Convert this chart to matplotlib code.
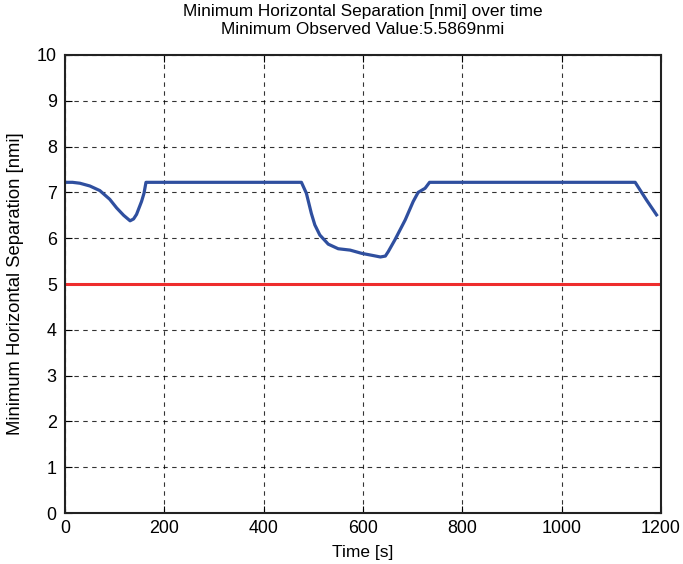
import matplotlib.pyplot as plt

plt.rcParams['font.family'] = ['Liberation Sans', 'DejaVu Sans']

# separation curve
time_s = [0, 15, 30, 50, 70, 90, 104, 118, 131, 138, 144, 154, 159, 163,
          476, 486, 496, 503, 513, 530, 550, 574, 597, 621, 635, 645, 651,
          664, 685, 701, 711, 725, 734,
          1148, 1158, 1171, 1191]
sep_nmi = [7.22, 7.22, 7.20, 7.14, 7.04, 6.85, 6.66, 6.50, 6.38, 6.42, 6.52, 6.80, 6.98, 7.22,
           7.22, 6.98, 6.54, 6.29, 6.07, 5.87, 5.77, 5.74, 5.67, 5.62, 5.59, 5.61, 5.71,
           5.96, 6.40, 6.80, 7.00, 7.09, 7.22,
           7.22, 7.05, 6.83, 6.51]
threshold_nmi = 5
min_value = 5.5869

fig = plt.figure(figsize=(6.83, 5.64), dpi=100)
ax = fig.add_axes([0.0952, 0.0904, 0.8726, 0.8121])

ax.plot([0, 1200], [threshold_nmi, threshold_nmi], color='#ee2d2d', linewidth=2.2)
ax.plot(time_s, sep_nmi, color='#2f4f9f', linewidth=2.3)

ax.set_xlim(0, 1200)
ax.set_ylim(0, 10)
ax.set_xticks(range(0, 1201, 200))
ax.set_yticks(range(0, 11))
ax.grid(True, color='black', linestyle=(0, (4, 4)), linewidth=0.8, alpha=0.8)
ax.tick_params(direction='in', top=True, right=True, labelsize=12.9, length=5, pad=5)
ax.tick_params(axis='y', pad=6)
for s in ax.spines.values():
    s.set_linewidth(1.5)
    s.set_color('#222222')

ax.set_xlabel('Time [s]', fontsize=12.5, labelpad=6)
ax.set_ylabel('Minimum Horizontal Separation [nmi]', fontsize=13.3, labelpad=9)
ax.set_title('Minimum Horizontal Separation [nmi] over time\n'
             'Minimum Observed Value:%.4fnmi' % min_value, fontsize=12.4, pad=15,
             linespacing=1.3)

fig.savefig('out.png', dpi=100)
